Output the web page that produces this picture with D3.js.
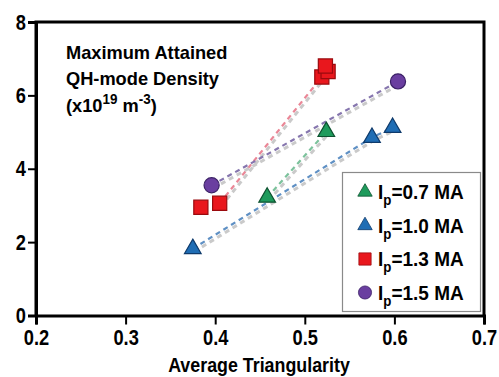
<!DOCTYPE html>
<html>
<head>
<meta charset="utf-8">
<script src="https://cdn.jsdelivr.net/npm/d3@7"></script>
<style>
  body { margin: 0; background: #fff; }
  svg { display: block; }
</style>
</head>
<body>
<svg id="chart" width="499" height="377"></svg>
<script>
// values
const xTicks = [0.2, 0.3, 0.4, 0.5, 0.6, 0.7];
const yTicks = [0, 2, 4, 6, 8];

const series = ["0.7", "1.0", "1.3", "1.5"];
const ip07 = [[0.458, 3.22], [0.524, 5.01]];
const ip10 = [[0.375, 1.82], [0.575, 4.85], [0.598, 5.12]];
const ip13 = [[0.384, 2.95], [0.405, 3.06], [0.519, 6.5], [0.526, 6.65], [0.523, 6.8]];
const ip15 = [[0.396, 3.55], [0.604, 6.38]];

// dashed lines drawn between these points of each series
const line07 = [ip07[0], ip07[1]];
const line10 = [ip10[0], ip10[1], ip10[2]];
const line13 = [ip13[1], ip13[2]];
const line15 = [ip15[0], ip15[1]];

const titleLines = ["Maximum Attained", "QH-mode Density"];

const svg = d3.select("#chart");
// the reference uses a condensed bold face; squeeze Liberation Sans horizontally
const font = "'Liberation Sans', Arial, sans-serif";
const squeeze = 0.83;
const x = d3.scaleLinear().domain([0.2, 0.7]).range([36, 484]);
const y = d3.scaleLinear().domain([0, 8]).range([315.5, 22]);

const styles = {
    "0.7": {shape: d3.symbolTriangle, size: 120, fill: "#1f9b5c", stroke: "#0d5230", dash: "#7cc29c"},
    "1.0": {shape: d3.symbolTriangle, size: 120, fill: "#1f6db4", stroke: "#0e3a6b", dash: "#5f90c4"},
    "1.3": {shape: d3.symbolSquare, size: 200, fill: "#e9171d", stroke: "#9a0a0e", dash: "#ea8696"},
    "1.5": {shape: d3.symbolCircle, size: 180, fill: "#6a3ea0", stroke: "#3b2166", dash: "#8676ae"}
};
const pts = {"0.7": ip07, "1.0": ip10, "1.3": ip13, "1.5": ip15};
const lines = {"0.7": line07, "1.0": line10, "1.3": line13, "1.5": line15};

// frame
svg.append("path")
    .attr("d", `M${x(0.2)},${y(0)}V${y(8)}H${x(0.7)}V${y(0)}`)
    .attr("fill", "none")
    .attr("stroke", "#000")
    .attr("stroke-width", 3);

const xAxis = svg.append("g")
    .attr("transform", `translate(0,${y(0)})`)
    .call(d3.axisBottom(x).tickValues(xTicks).tickFormat(d3.format(".1f")).tickSize(9).tickPadding(5));
xAxis.select(".domain").attr("stroke-width", 3);
xAxis.selectAll("line").attr("stroke-width", 2);
xAxis.selectAll("text")
    .attr("font-family", font)
    .attr("font-weight", "bold")
    .attr("font-size", "22px")
    .attr("fill", "#000")
    .attr("transform", `scale(${squeeze},1)`);

const yAxis = svg.append("g")
    .attr("transform", `translate(${x(0.2)},0)`)
    .call(d3.axisLeft(y).tickValues(yTicks).tickSize(8).tickPadding(3));
yAxis.select(".domain").attr("stroke-width", 3);
yAxis.selectAll("line").attr("stroke-width", 2);
yAxis.selectAll("text")
    .attr("font-family", font)
    .attr("font-weight", "bold")
    .attr("font-size", "22px")
    .attr("fill", "#000")
    .attr("x", -10 / squeeze)
    .attr("transform", `scale(${squeeze},1)`);

svg.append("text")
    .attr("transform", `translate(259,372) scale(0.85,1)`)
    .attr("text-anchor", "middle")
    .attr("font-family", font)
    .attr("font-weight", "bold")
    .attr("font-size", "21px")
    .text("Average Triangularity");

// title block inside the plot
const tg = svg.append("g")
    .attr("transform", "translate(66,0) scale(0.96,1)")
    .attr("font-family", font)
    .attr("font-weight", "bold")
    .attr("font-size", "19px");
titleLines.forEach((t, i) => {
    tg.append("text").attr("x", 0).attr("y", 59 + i * 26.5).text(t);
});
const t3 = tg.append("text").attr("x", 0).attr("y", 112);
t3.append("tspan").text("(x10");
t3.append("tspan").attr("dy", -8).attr("font-size", "14px").text("19");
t3.append("tspan").attr("dy", 8).text(" m");
t3.append("tspan").attr("dy", -8).attr("font-size", "14px").text("-3");
t3.append("tspan").attr("dy", 8).text(")");

// dashed connecting lines with a grey shadow
const lineGen = d3.line().x(d => x(d[0])).y(d => y(d[1]));
series.forEach(s => {
    svg.append("path")
        .attr("d", lineGen(lines[s]))
        .attr("transform", "translate(1.5,3)")
        .attr("fill", "none")
        .attr("stroke", "#cacaca")
        .attr("stroke-width", 3)
        .attr("stroke-dasharray", "5,4");
    svg.append("path")
        .attr("d", lineGen(lines[s]))
        .attr("fill", "none")
        .attr("stroke", styles[s].dash)
        .attr("stroke-width", 2.2)
        .attr("stroke-dasharray", "5,4");
});

// markers
series.forEach(s => {
    const st = styles[s];
    svg.append("g").selectAll("path")
        .data(pts[s])
        .join("path")
        .attr("transform", d => `translate(${x(d[0])},${y(d[1])})`)
        .attr("d", d3.symbol().type(st.shape).size(st.size))
        .attr("fill", st.fill)
        .attr("stroke", st.stroke)
        .attr("stroke-width", 1.2);
});

// legend
svg.append("rect")
    .attr("x", 342.5).attr("y", 172.5)
    .attr("width", 138).attr("height", 139)
    .attr("fill", "#fff")
    .attr("stroke", "#8a8a8a")
    .attr("stroke-width", 1.2);

const leg = svg.append("g").selectAll("g")
    .data(series)
    .join("g")
    .attr("transform", (d, i) => `translate(365,${192 + i * 33.5})`);
leg.append("path")
    .attr("d", d => d3.symbol().type(styles[d].shape).size(styles[d].size * 0.75)())
    .attr("fill", d => styles[d].fill)
    .attr("stroke", d => styles[d].stroke)
    .attr("stroke-width", 0.8);
const lt = leg.append("text")
    .attr("transform", "translate(13,7) scale(0.95,1)")
    .attr("font-family", font)
    .attr("font-weight", "bold")
    .attr("font-size", "20px");
lt.append("tspan").text("I");
lt.append("tspan").attr("dy", 6).attr("font-size", "14px").text("p");
lt.append("tspan").attr("dy", -6).text(d => `=${d} MA`);
</script>
</body>
</html>
